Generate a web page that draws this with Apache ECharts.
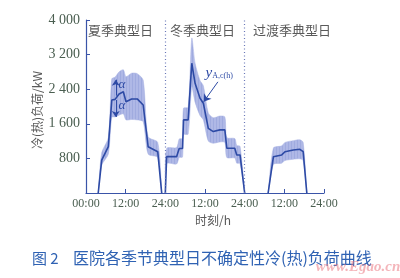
<!DOCTYPE html>
<html><head><meta charset="utf-8">
<script src="https://cdn.jsdelivr.net/npm/echarts@6/dist/echarts.min.js"></script>
<style>html,body{margin:0;padding:0;background:#fff}#c{width:400px;height:278px}</style>
</head><body><div id="c"></div>
<script>
const xTickLabels = ['00:00','12:00','24:00','12:00','24:00','12:00','24:00'];
const yTickLabels = ['', '800', '1 600', '2 400', '3 200', '4 000'];
const panelTitles = ['夏季典型日','冬季典型日','过渡季典型日'];
const yAxisName = '冷(热)负荷/kW';
const xAxisName = '时刻/h';
const captionNo = '图 2';
const captionText = '医院各季节典型日不确定性冷(热)负荷曲线';
const watermark = 'www.Egao.cn';

const summerHours = [3.7, 4.75, 6.75, 7.8, 8.8, 10, 11.3, 12.1, 13.8, 15.5, 17.3, 18.8, 21.7, 22.9];
const summerLoad  = [0, 760, 1070, 2150, 2165, 2290, 2340, 2110, 2175, 2175, 2035, 1070, 955, 0];
const summerUpper = [0, 930, 1280, 2640, 2680, 2800, 2850, 2690, 2770, 2760, 2610, 1300, 1170, 0];
const summerLower = [0, 640, 900, 1750, 1760, 1800, 1830, 1690, 1700, 1690, 1650, 900, 820, 0];

const winterHours = [24, 24.4, 27.4, 28.2, 29.2, 29.5, 30.9, 32, 33, 34.5, 35.5, 37, 38.5, 40.5, 42, 42.6, 45, 45.6, 46.6, 48];
const winterLoad  = [0, 840, 840, 1030, 1030, 1690, 1690, 3000, 2535, 2190, 2075, 1495, 1420, 1460, 1460, 1035, 1035, 880, 880, 0];
const winterUpper = [0, 1030, 1050, 1250, 1260, 1960, 1980, 3580, 3000, 2600, 2480, 1850, 1740, 1780, 1760, 1280, 1260, 1100, 1080, 0];
const winterLower = [0, 680, 670, 820, 830, 1350, 1360, 2450, 2100, 1790, 1690, 1200, 1150, 1180, 1170, 820, 810, 690, 680, 0];

const transHours = [55.1, 56.7, 59.2, 60.2, 62.7, 64.7, 65.7, 66.8];
const transLoad  = [0, 840, 880, 955, 995, 1010, 955, 0];
const transUpper = [0, 1040, 1090, 1170, 1210, 1230, 1170, 0];
const transLower = [0, 660, 690, 750, 780, 790, 750, 0];

const lineColor = '#2d4aa5';
const axisColor = '#3a54a8';
const labelColor = '#4a5e50';

const pc = document.createElement('canvas');
pc.width = 3; pc.height = 4;
const pctx = pc.getContext('2d');
pctx.fillStyle = '#afb8e6'; pctx.fillRect(0, 0, 3, 4);
pctx.fillStyle = '#a0abdf'; pctx.fillRect(0, 0, 1, 4);
const bandFill = { image: pc, repeat: 'repeat' };

function bandSeries(hours, lower, upper) {
  const data = hours.map((h, i) => [h, lower[i], upper[i]]);
  return {
    type: 'custom', silent: true, z: 1,
    encode: { x: 0, y: [1, 2] },
    data: data,
    renderItem: function (params, api) {
      if (params.dataIndex !== 0) return null;
      const pts = [];
      for (let i = 0; i < hours.length; i++) pts.push(api.coord([hours[i], upper[i]]));
      for (let i = hours.length - 1; i >= 0; i--) pts.push(api.coord([hours[i], lower[i]]));
      return { type: 'polygon', shape: { points: pts, smooth: 0.25 }, style: { fill: bandFill, stroke: '#a9b3e3', lineWidth: 0.5 } };
    }
  };
}
function lineSeries(hours, vals, extra) {
  return Object.assign({
    type: 'line', z: 3, symbol: 'none', smooth: false,
    data: hours.map((h, i) => [h, vals[i]]),
    lineStyle: { color: lineColor, width: 1.6 }, itemStyle: { color: lineColor }
  }, extra || {});
}

const chart = echarts.init(document.getElementById('c'), null, { renderer: 'canvas' });
chart.setOption({
  animation: false,
  backgroundColor: '#fff',
  grid: { left: 86, right: 76, top: 20, bottom: 85 },
  xAxis: {
    type: 'value', min: 0, max: 72, interval: 12,
    axisLine: { show: true, lineStyle: { color: axisColor, width: 1.2 } },
    axisTick: { show: true, inside: true, length: 4, lineStyle: { color: axisColor } },
    splitLine: { show: false },
    axisLabel: { margin: 5, color: labelColor, fontFamily: 'Liberation Serif', fontSize: 12,
      formatter: v => xTickLabels[Math.round(v / 12)] }
  },
  yAxis: {
    type: 'value', min: 0, max: 4000, interval: 800,
    axisLine: { show: true, lineStyle: { color: axisColor, width: 1.2 } },
    axisTick: { show: true, inside: true, length: 4, lineStyle: { color: axisColor } },
    splitLine: { show: false },
    axisLabel: { margin: 6, color: labelColor, fontFamily: 'Liberation Serif', fontSize: 14,
      formatter: v => yTickLabels[Math.round(v / 800)] }
  },
  series: [
    bandSeries(summerHours, summerLower, summerUpper),
    bandSeries(winterHours, winterLower, winterUpper),
    bandSeries(transHours, transLower, transUpper),
    lineSeries(summerHours, summerLoad, {
      markLine: { silent: true, symbol: ['none', 'arrow'], symbolSize: 6,
        lineStyle: { color: lineColor, width: 1, type: 'solid' }, label: { show: false },
        data: [[{ coord: [9, 2250] }, { coord: [9, 2620] }], [{ coord: [9, 2150] }, { coord: [9, 1760] }]] },
      markPoint: { silent: true, symbol: 'circle', symbolSize: 0,
        label: { show: true, color: lineColor, fontFamily: 'Liberation Serif', fontStyle: 'italic', fontSize: 13, formatter: 'α' },
        data: [{ coord: [10.9, 2500] }, { coord: [10.9, 2030] }] }
    }),
    lineSeries(winterHours, winterLoad, {
      markLine: { silent: true, symbol: ['none', 'arrow'], symbolSize: 7,
        lineStyle: { color: lineColor, width: 1, type: 'solid' }, label: { show: false },
        data: [[{ coord: [39.9, 2570] }, { coord: [35.6, 2110] }]] },
      markPoint: { silent: true, symbol: 'circle', symbolSize: 0,
        label: { show: true, formatter: '{y|y}{s|A,c(h)}',
          rich: { y: { color: lineColor, fontFamily: 'Liberation Serif', fontStyle: 'italic', fontSize: 15 },
                  s: { color: lineColor, fontFamily: 'Liberation Serif', fontSize: 8, padding: [6, 0, 0, 0] } } },
        data: [{ coord: [40.3, 2780] }] }
    }),
    lineSeries(transHours, transLoad, {
      markLine: { silent: true, symbol: 'none', label: { show: false },
        lineStyle: { color: '#6a78b8', width: 1.2, type: [1, 2.5] },
        data: [{ xAxis: 24 }, { xAxis: 48 }] }
    })
  ],
  graphic: [
    { type: 'text', x: 88, y: 30, style: { text: panelTitles[0], fill: '#5a5a5a', font: '13px "Noto Sans CJK SC"', verticalAlign: 'middle' } },
    { type: 'text', x: 170, y: 30, style: { text: panelTitles[1], fill: '#5a5a5a', font: '13px "Noto Sans CJK SC"', verticalAlign: 'middle' } },
    { type: 'text', x: 253, y: 30, style: { text: panelTitles[2], fill: '#5a5a5a', font: '13px "Noto Sans CJK SC"', verticalAlign: 'middle' } },
    { type: 'text', x: 37, y: 110, rotation: Math.PI / 2, style: { text: yAxisName, fill: '#5a5a5a', font: '12px "Noto Sans CJK SC"', align: 'center', verticalAlign: 'middle' } },
    { type: 'text', x: 213, y: 220, style: { text: xAxisName, fill: '#5a5a5a', font: '12px "Noto Sans CJK SC"', align: 'center', verticalAlign: 'middle' } },
    { type: 'text', x: 32, y: 258, style: { text: captionNo, fill: '#2f62b3', font: '15px "Noto Sans CJK SC"', verticalAlign: 'middle' } },
    { type: 'text', x: 73, y: 258, style: { text: captionText, fill: '#2f62b3', font: '16px "Noto Sans CJK SC"', verticalAlign: 'middle' } },
    { type: 'text', x: 358, y: 267, style: { text: watermark, fill: 'rgba(235,120,130,0.55)', font: 'italic bold 15px "Liberation Serif"', align: 'center', verticalAlign: 'middle' } }
  ]
});
</script></body></html>
